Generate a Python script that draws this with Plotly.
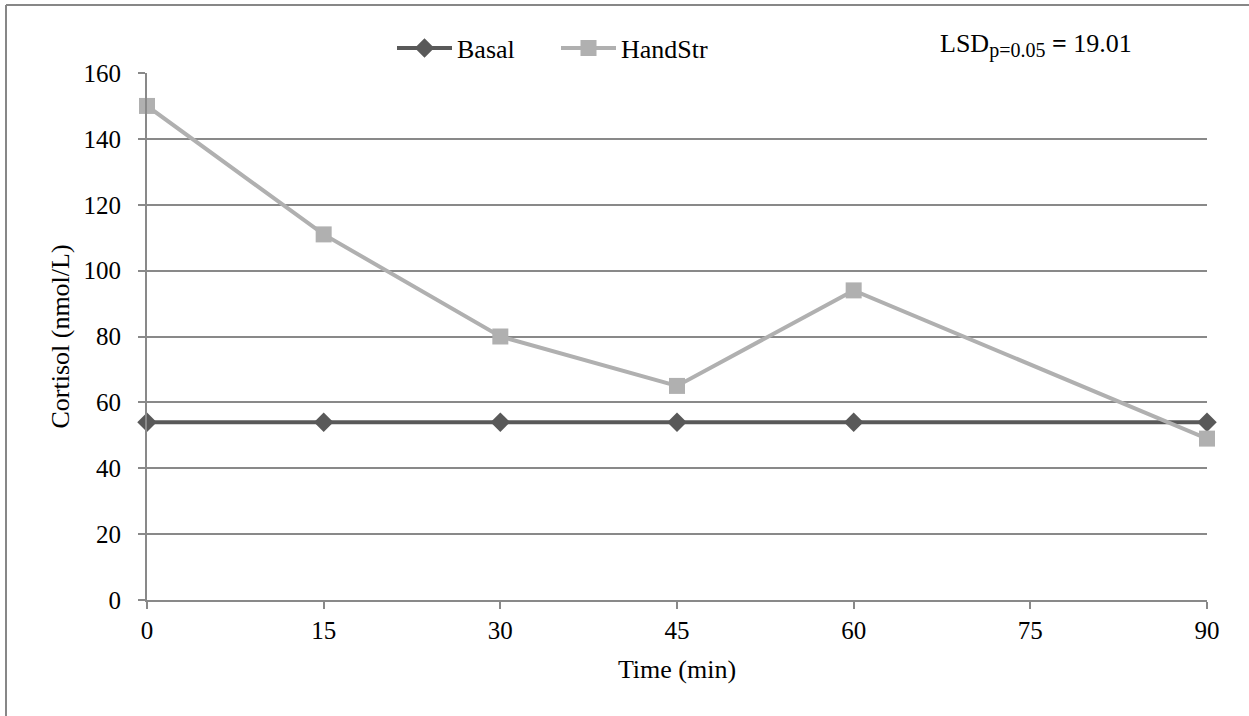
import plotly.graph_objects as go

# Sampling times (min) and cortisol concentrations (nmol/L)
time_min = [0, 15, 30, 45, 60, 90]
basal = [54, 54, 54, 54, 54, 54]
handstr = [150, 111, 80, 65, 94, 49]

x_ticks = [0, 15, 30, 45, 60, 75, 90]
y_ticks = [0, 20, 40, 60, 80, 100, 120, 140, 160]

W, H = 1249, 716
ML, MR, MT, MB = 147, 42, 73, 116
FONT = "Liberation Serif, Times New Roman, serif"
GRID = "#898989"

fig = go.Figure()
fig.add_trace(go.Scatter(
    x=time_min, y=basal, name="Basal", mode="lines+markers",
    line=dict(color="#595959", width=4),
    marker=dict(symbol="diamond", size=15, color="#595959"),
    cliponaxis=False,
))
fig.add_trace(go.Scatter(
    x=time_min, y=handstr, name="HandStr", mode="lines+markers",
    line=dict(color="#b0b0b0", width=4),
    marker=dict(symbol="square", size=16, color="#b0b0b0"),
    cliponaxis=False,
))

pw = W - ML - MR
ph = H - MT - MB

def px_x(p):
    return (p - ML) / pw

def px_y(p):
    return (H - MB - p) / ph

# outer chart frame (top and left edges)
fig.add_shape(type="line", xref="paper", yref="paper",
              x0=px_x(6), x1=px_x(1260), y0=px_y(5), y1=px_y(5),
              line=dict(color="#878787", width=2))
fig.add_shape(type="line", xref="paper", yref="paper",
              x0=px_x(6), x1=px_x(6), y0=px_y(5), y1=px_y(730),
              line=dict(color="#878787", width=2))

fig.add_annotation(
    xref="paper", yref="paper", x=px_x(1134), y=px_y(46),
    xanchor="right", yanchor="middle", showarrow=False,
    text="LSD<sub><span style='font-size:20px'>p=0.05</span></sub> <b>=</b> 19.01",
    font=dict(family=FONT, size=26, color="#000000"),
)

fig.update_layout(
    width=W, height=H,
    margin=dict(l=ML, r=MR, t=MT, b=MB),
    paper_bgcolor="white", plot_bgcolor="white",
    font=dict(family=FONT, size=25, color="#000000"),
    showlegend=True,
    legend=dict(
        orientation="h", x=px_x(392), y=px_y(48),
        xanchor="left", yanchor="middle",
        font=dict(family=FONT, size=26, color="#000000"),
        itemwidth=55, entrywidth=94, entrywidthmode="pixels",
        bgcolor="rgba(0,0,0,0)",
    ),
    xaxis=dict(
        range=[0, 90], tickvals=x_ticks, ticktext=[str(v) for v in x_ticks],
        showgrid=False, zeroline=False,
        showline=True, linecolor=GRID, linewidth=2,
        ticks="outside", ticklen=7, tickcolor=GRID, tickwidth=2,
        tickfont=dict(family=FONT, size=25),
        title=dict(text="Time (min)", font=dict(family=FONT, size=26), standoff=17),
    ),
    yaxis=dict(
        range=[0, 160], tickvals=y_ticks, ticktext=[str(v) for v in y_ticks],
        showgrid=True, gridcolor=GRID, gridwidth=1.5, zeroline=False,
        showline=True, linecolor=GRID, linewidth=2,
        ticks="outside", ticklen=7, tickcolor=GRID, tickwidth=2,
        ticklabelstandoff=12,
        tickfont=dict(family=FONT, size=25),
        title=dict(text="Cortisol (nmol/L)", font=dict(family=FONT, size=26), standoff=6),
    ),
)

fig.write_html("out.html")
